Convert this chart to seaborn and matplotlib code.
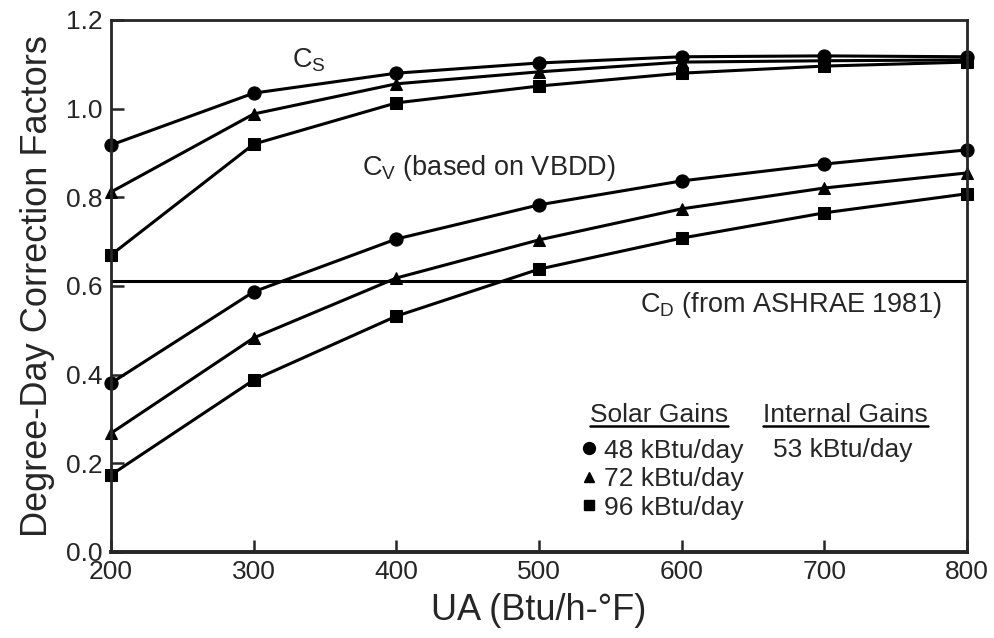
import numpy as np
import pandas as pd
import seaborn as sns
import matplotlib.pyplot as plt
from matplotlib.lines import Line2D

# UA values (Btu/h-F)
ua = [200, 300, 400, 500, 600, 700, 800]

# solar gain levels and their markers
gains = ["48 kBtu/day", "72 kBtu/day", "96 kBtu/day"]
markers = ["o", "^", "s"]

# C_S curves
cs_48 = [0.918, 1.035, 1.080, 1.103, 1.117, 1.119, 1.117]
cs_72 = [0.812, 0.988, 1.056, 1.083, 1.105, 1.108, 1.110]
cs_96 = [0.670, 0.920, 1.013, 1.051, 1.080, 1.096, 1.105]

# C_V curves (based on VBDD)
cv_48 = [0.381, 0.587, 0.706, 0.783, 0.837, 0.875, 0.907]
cv_72 = [0.268, 0.483, 0.618, 0.704, 0.774, 0.821, 0.855]
cv_96 = [0.174, 0.388, 0.532, 0.638, 0.708, 0.765, 0.808]

# C_D from ASHRAE 1981
cd = 0.611

sns.set_style("ticks")
plt.rcParams["font.family"] = ["Liberation Sans", "DejaVu Sans"]
plt.rcParams["mathtext.fontset"] = "custom"
plt.rcParams["mathtext.rm"] = "Liberation Sans"
plt.rcParams["mathtext.it"] = "Liberation Sans"

fig = plt.figure(figsize=(9.95, 6.38), dpi=100)
ax = fig.add_axes([0.1116, 0.1348, 0.8603, 0.8339])

rows = []
for fam, series in [("Cs", [cs_48, cs_72, cs_96]), ("Cv", [cv_48, cv_72, cv_96])]:
    for g, vals in zip(gains, series):
        for x, y in zip(ua, vals):
            rows.append({"family": fam, "gain": g, "ua": x, "value": y})
df = pd.DataFrame(rows)

sizes = {"o": 9.5, "^": 8, "s": 8}
for fam in ["Cs", "Cv"]:
    for g, m in zip(gains, markers):
        sub = df[(df["family"] == fam) & (df["gain"] == g)]
        sns.lineplot(
            data=sub, x="ua", y="value", ax=ax,
            color="black", linewidth=2.2,
            marker=m, markersize=sizes[m],
            markeredgecolor="black", clip_on=False,
            legend=False
        )

ax.axhline(cd, color="black", linewidth=2.2)

ax.set_xlim(200, 800)
ax.set_ylim(0, 1.2)
ax.set_xticks(ua)
ax.set_yticks(np.arange(0, 1.21, 0.2))
ax.set_yticklabels([f"{v:.1f}" for v in np.arange(0, 1.21, 0.2)])
ax.tick_params(direction="in", length=9, width=1.8, labelsize=19, pad=6)

for s in ax.spines.values():
    s.set_linewidth(2)
ax.spines["bottom"].set_linewidth(2.8)

ax.set_xlabel("UA (Btu/h-°F)", fontsize=26, labelpad=6)
ax.set_ylabel("Degree-Day Correction Factors", fontsize=26, labelpad=8)

ax.text(327, 1.11, r"C$_\mathrm{S}$", fontsize=19.5, va="center")
ax.text(376, 0.866, r"C$_\mathrm{V}$ (based on VBDD)", fontsize=19.5, va="center")
ax.text(571, 0.557, r"C$_\mathrm{D}$ (from ASHRAE 1981)", fontsize=19.5, va="center")

handles = [Line2D([], [], color="black", marker=m, linestyle="none",
                  markersize=sizes[m] * 0.9) for m in markers]
ax.legend(handles, gains, loc="upper left", bbox_to_anchor=(0.547, 0.213),
          frameon=False, fontsize=19, handlelength=0.7, handletextpad=0.25,
          labelspacing=0.17, borderpad=0, borderaxespad=0)

t_sol = ax.text(0.5596, 0.2575, "Solar Gains", transform=ax.transAxes,
                fontsize=19, va="center")
t_int = ax.text(0.7617, 0.2575, "Internal Gains", transform=ax.transAxes,
                fontsize=19, va="center")
ax.text(0.7734, 0.1917, "53 kBtu/day", transform=ax.transAxes,
        fontsize=19, va="center")

# underline the two legend headings
fig.canvas.draw()
inv = fig.transFigure.inverted()
for t in [t_sol, t_int]:
    bb = t.get_window_extent()
    (x0, y0), (x1, y1) = inv.transform([(bb.x0, bb.y0), (bb.x1, bb.y1)])
    fig.add_artist(Line2D([x0, x1], [y0 + 0.002, y0 + 0.002], color="black",
                          linewidth=1.8, transform=fig.transFigure))

fig.savefig("out.png", dpi=100)
